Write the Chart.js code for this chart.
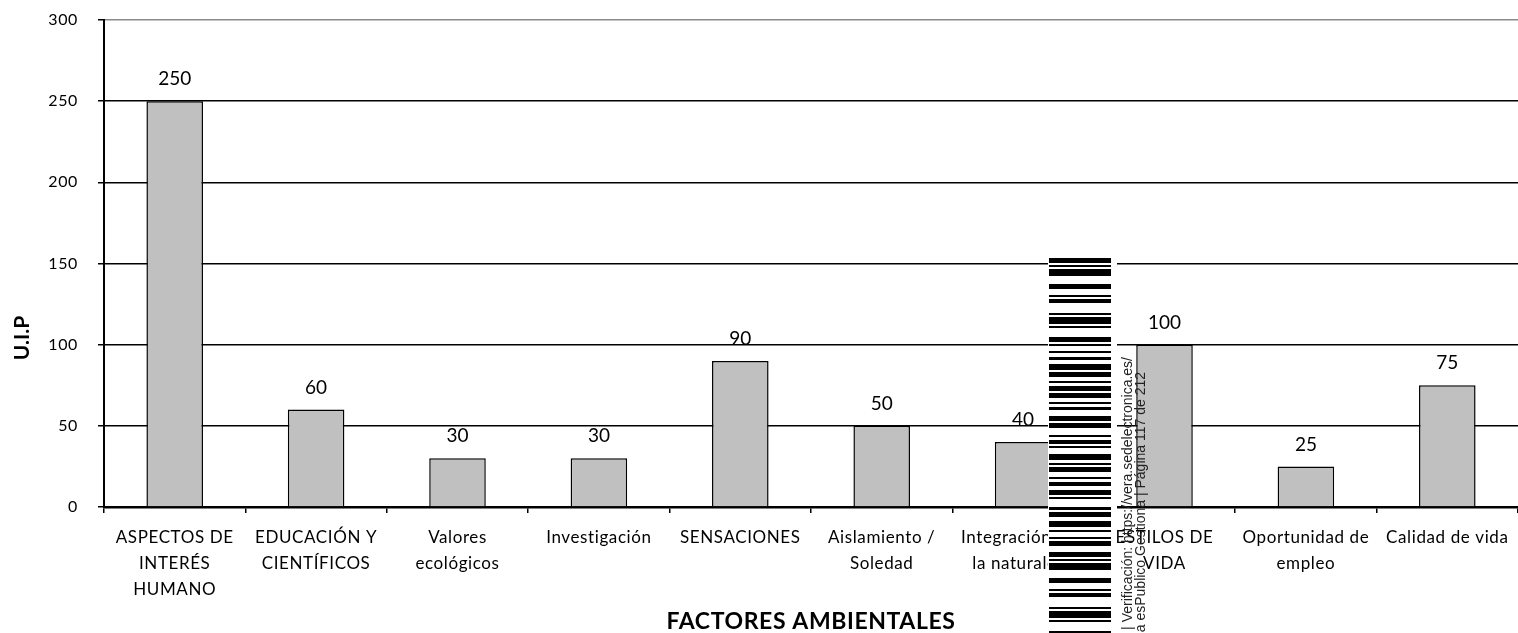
<!DOCTYPE html>
<html>
<head>
<meta charset="utf-8">
<script src="https://cdn.jsdelivr.net/npm/chart.js@4/dist/chart.umd.min.js"></script>
<style>
    html, body { margin: 0; padding: 0; background: #fff; }
    #wrap { width: 1518px; height: 633px; position: relative; }
</style>
</head>
<body>
<div id="wrap"><canvas id="uip-graph"></canvas></div>
<script>
// categories (wrapped as in the original)
const factores = [
    ['ASPECTOS DE', 'INTERÉS', 'HUMANO'],
    ['EDUCACIÓN Y', 'CIENTÍFICOS'],
    ['Valores', 'ecológicos'],
    'Investigación',
    'SENSACIONES',
    ['Aislamiento /', 'Soledad'],
    ['Integración con', 'la naturaleza'],
    ['ESTILOS DE', 'VIDA'],
    ['Oportunidad de', 'empleo'],
    'Calidad de vida'
];
const uipValues = [250, 60, 30, 30, 90, 50, 40, 100, 25, 75];
const yMin = 0;
const yMax = 300;
const yStep = 50;

const fontFamily = 'Lato, "Open Sans", sans-serif';

// slightly looser letter spacing, like the exported original
const spacing = {
    id: 'spacing',
    beforeDraw(chart) {
        chart.ctx.letterSpacing = '0.6px';
    }
};

// values printed above each bar
const valueLabels = {
    id: 'valueLabels',
    afterDatasetsDraw(chart) {
        const ctx = chart.ctx;
        const meta = chart.getDatasetMeta(0);
        ctx.save();
        ctx.letterSpacing = '0px';
        ctx.font = '19px ' + fontFamily;
        ctx.fillStyle = '#000';
        ctx.textAlign = 'center';
        ctx.textBaseline = 'middle';
        meta.data.forEach(function (bar, i) {
            ctx.fillText(String(uipValues[i]), bar.x, bar.y - 22);
        });
        ctx.restore();
    }
};

// rotated y axis title
const yTitle = {
    id: 'yTitle',
    afterDraw(chart) {
        const ctx = chart.ctx;
        ctx.save();
        ctx.letterSpacing = '0px';
        ctx.translate(22, 338);
        ctx.rotate(-Math.PI / 2);
        ctx.font = 'bold 21px ' + fontFamily;
        ctx.fillStyle = '#000';
        ctx.textAlign = 'center';
        ctx.textBaseline = 'middle';
        ctx.fillText('U.I.P', 0, 0);
        ctx.restore();
    }
};

// verification stamp that sits on top of the page
const stamp = {
    id: 'stamp',
    afterDraw(chart) {
        const ctx = chart.ctx;
        const stripes = [5,2, 2,2, 7,8, 5,6, 2,2, 4,10, 2,2, 7,2, 2,9, 5,2, 2,5, 2,4, 3,4, 6,2,
            5,4, 2,3, 5,2, 5,4, 2,3, 3,6, 5,2, 5,7, 2,3, 4,2, 2,6, 6,3, 2,2, 5,5, 2,3, 4,4,
            5,2, 2,8, 3,2, 5,4, 6,3, 2,5, 2,2, 5,6];
        ctx.save();
        ctx.letterSpacing = '0px';
        ctx.fillStyle = '#fff';
        ctx.fillRect(1048, 256, 69, 380);
        ctx.fillStyle = '#000';
        let y = 258, k = 0;
        while (y < 633) {
            const h = stripes[k % stripes.length];
            if (k % 2 === 0) ctx.fillRect(1049, y, 62, h);
            y += h;
            k++;
        }
        ctx.font = '14px "Liberation Sans", Arial, sans-serif';
        ctx.fillStyle = '#222';
        ctx.textAlign = 'right';
        ctx.textBaseline = 'middle';
        ctx.translate(1128, 357);
        ctx.rotate(-Math.PI / 2);
        ctx.fillText('| Verificación: https://vera.sedelectronica.es/', 0, 0);
        ctx.fillText('a esPublico Gestiona | Página 117 de 212', -15, 13);
        ctx.restore();
    }
};

new Chart(document.getElementById('uip-graph').getContext('2d'), {
    type: 'bar',
    data: {
        labels: factores,
        datasets: [{
            label: 'U.I.P',
            data: uipValues,
            backgroundColor: '#c0c0c0',
            borderColor: '#000',
            borderWidth: 1.5,
            barPercentage: 0.4,
            categoryPercentage: 1
        }]
    },
    options: {
        responsive: true,
        maintainAspectRatio: false,
        animation: false,
        layout: {
            padding: { top: 20, right: 0, bottom: 0, left: 0 }
        },
        scales: {
            x: {
                afterFit: function (scale) { scale.height = 126; },
                grid: {
                    display: true,
                    drawOnChartArea: false,
                    color: '#000',
                    lineWidth: 1.5,
                    tickLength: 6
                },
                border: { color: '#000', width: 2.5 },
                ticks: {
                    autoSkip: false,
                    maxRotation: 0,
                    minRotation: 0,
                    padding: 11,
                    color: '#000',
                    font: { family: fontFamily, size: 17, lineHeight: 1.55 }
                },
                title: {
                    display: true,
                    text: 'FACTORES AMBIENTALES',
                    color: '#000',
                    padding: { top: 0, bottom: 0 },
                    font: { family: fontFamily, size: 23, weight: 'bold', lineHeight: 1.0 }
                }
            },
            y: {
                min: yMin,
                max: yMax,
                afterFit: function (scale) {
                    scale.width = 104;
                    scale.paddingTop = 0;
                },
                grid: {
                    color: function (c) { return c.tick && c.tick.value === yMax ? '#8a8a8a' : '#000'; },
                    lineWidth: 1.5,
                    tickLength: 6,
                    tickColor: '#000'
                },
                border: { color: '#000', width: 2 },
                ticks: {
                    stepSize: yStep,
                    padding: 20,
                    color: '#000',
                    font: { family: fontFamily, size: 16 }
                }
            }
        },
        plugins: {
            legend: { display: false },
            tooltip: { enabled: false }
        }
    },
    plugins: [spacing, valueLabels, yTitle, stamp]
});
</script>
</body>
</html>
